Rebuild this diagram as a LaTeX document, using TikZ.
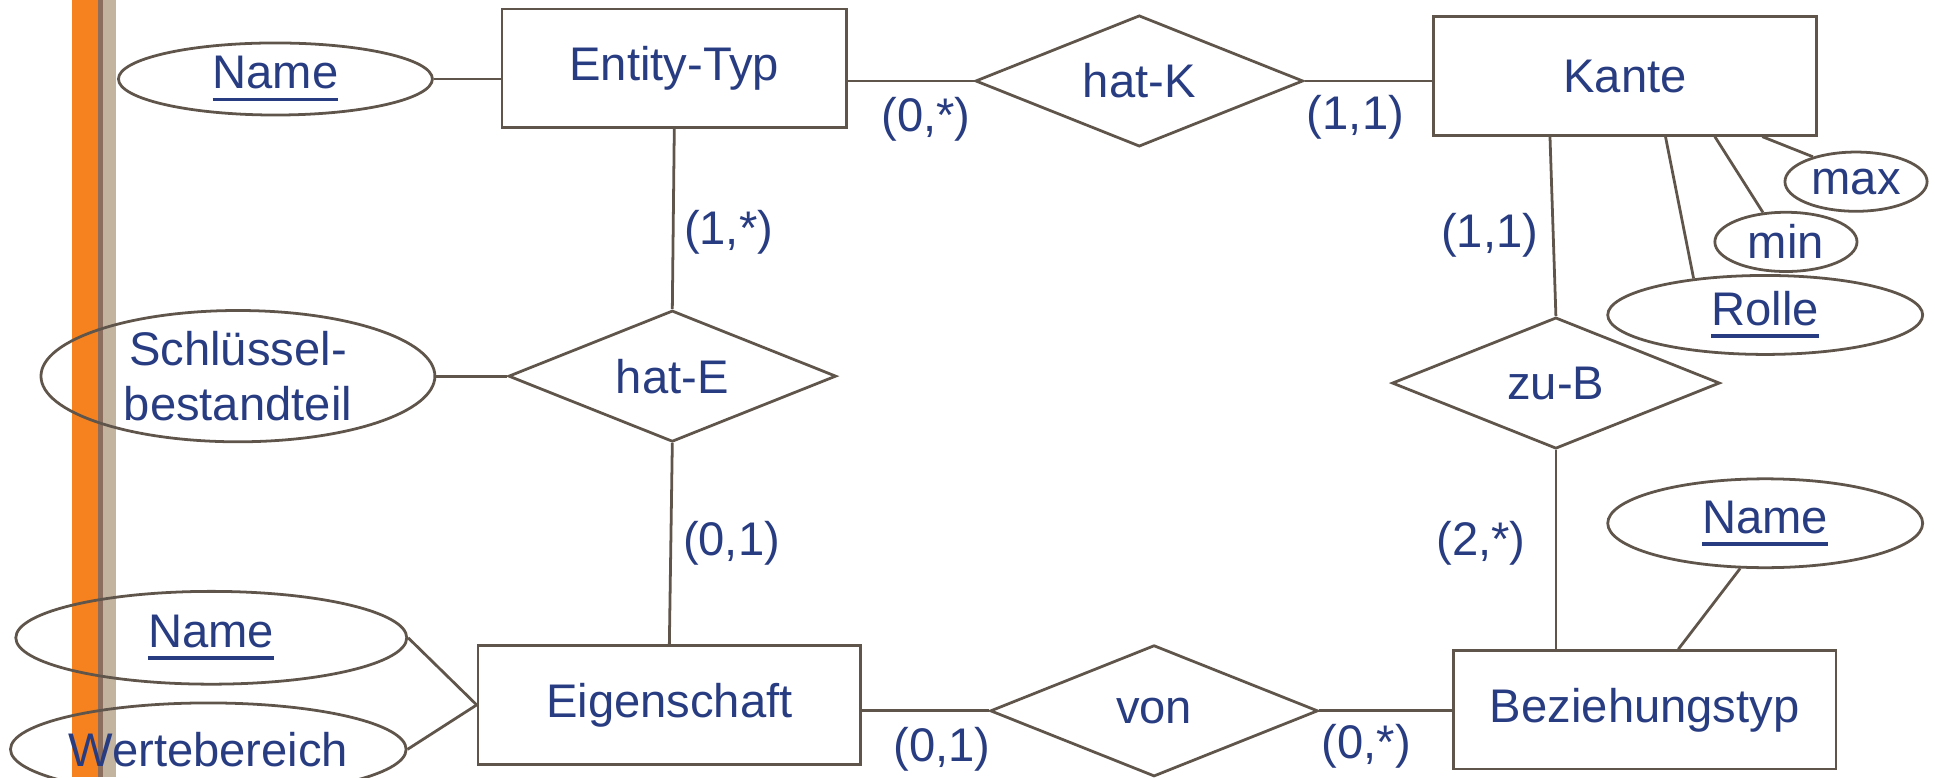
\documentclass[tikz,border=0pt]{standalone}
\usepackage{fontspec}
\setmainfont{Liberation Sans}
\usepackage{tikz}
\usetikzlibrary{shapes.geometric,positioning,calc}
\definecolor{myblue}{RGB}{40,60,130}
\definecolor{myline}{RGB}{95,85,75}
\definecolor{myorange}{RGB}{245,130,31}
\definecolor{mybrown}{RGB}{140,110,95}
\definecolor{mytan}{RGB}{195,180,160}
\newcommand{\ultext}[1]{\setbox0=\hbox{#1}\rlap{\rule[-3.6pt]{\wd0}{1.1pt}}\box0}

\begin{document}
\begin{tikzpicture}[font=\fontsize{13.6}{16}\selectfont, text=myblue, line width=0.8pt,
  entity/.style={draw=myline, rectangle, inner sep=0pt, minimum width=3.875cm, minimum height=1.2cm},
  rel/.style={draw=myline, diamond, aspect=2.5, inner sep=0pt, minimum width=3.32cm, minimum height=1.33cm},
  attr/.style={draw=myline, ellipse, inner sep=0pt},
  link/.style={myline}]
  \useasboundingbox (0,0) rectangle (19.6,-7.875);

  % side bar
  \fill[myorange] (0.725,0) rectangle (0.99,-7.875);
  \fill[mybrown] (0.99,0) rectangle (1.045,-7.875);
  \fill[mytan] (1.045,0) rectangle (1.175,-7.875);

  % entities
  \node[entity, minimum width=3.49cm] (entity) at (6.83,-0.69) {Entity-Typ};
  \node[entity] (kante) at (16.46,-0.77) {Kante};
  \node[entity] (eigen) at (6.78,-7.14) {Eigenschaft};
  \node[entity] (bez) at (16.66,-7.19) {Beziehungstyp};

  % relationships
  \node[rel] (hatk) at (11.54,-0.82) {hat-K};
  \node[rel] (hate) at (6.81,-3.81) {hat-E};
  \node[rel] (zub) at (15.76,-3.88) {zu-B};
  \node[rel] (von) at (11.69,-7.2) {von};

  % attributes
  \node[attr, minimum width=3.18cm, minimum height=0.73cm] (name1) at (2.79,-0.8) {\ultext{Name}};
  \node[attr, minimum width=3.99cm, minimum height=1.33cm, align=center] (schl) at (2.41,-3.81) {Schlüssel-\\bestandteil};
  \node[attr, minimum width=3.96cm, minimum height=0.94cm] (name2) at (2.14,-6.46) {\ultext{Name}};
  \node[attr, minimum width=3.98cm, minimum height=0.94cm] (werte) at (2.11,-7.59) {Wertebereich};
  \node[attr, minimum width=3.19cm, minimum height=0.9cm] (name3) at (17.88,-5.3) {\ultext{Name}};
  \node[attr, minimum width=3.19cm, minimum height=0.8cm] (rolle) at (17.88,-3.19) {\ultext{Rolle}};
  \node[attr, minimum width=1.44cm, minimum height=0.6cm] (min) at (18.09,-2.45) {min};
  \node[attr, minimum width=1.44cm, minimum height=0.6cm] (max) at (18.8,-1.84) {max};

  % connectors
  \draw[link] (name1.east) -- (name1.east -| entity.west);
  \draw[link] (hatk.west -| entity.east) -- (hatk.west);
  \draw[link] (hatk.east) -- (hatk.east -| kante.west);
  \draw[link] (entity.south) -- (hate.north);
  \draw[link] (schl.east) -- (hate.west);
  \draw[link] (hate.south) -- (eigen.north);
  \draw[link] (name2.east) -- (eigen.west);
  \draw[link] (werte.east) -- (eigen.west);
  \draw[link] (von.west -| eigen.east) -- (von.west);
  \draw[link] (von.east) -- (von.east -| bez.west);
  \draw[link] ([xshift=-0.76cm]kante.south) -- (zub.north);
  \draw[link] (zub.south) -- (zub.south |- bez.north);
  \draw[link] ([xshift=0.41cm]kante.south) -- (rolle.153);
  \draw[link] ([xshift=0.91cm]kante.south) -- (min.128);
  \draw[link] ([xshift=1.39cm]kante.south) -- (max.150);
  \draw[link] (name3.241) -- ([xshift=0.34cm]bez.north);

  % cardinalities
  \node (c1) at (9.38,-1.21) {(0,*)};
  \node (c2) at (13.73,-1.19) {(1,1)};
  \node (c3) at (7.38,-2.35) {(1,*)};
  \node (c4) at (7.41,-5.5) {(0,1)};
  \node (c5) at (15.09,-2.38) {(1,1)};
  \node (c6) at (15.0,-5.5) {(2,*)};
  \node (c7) at (9.54,-7.59) {(0,1)};
  \node (c8) at (13.84,-7.56) {(0,*)};
\end{tikzpicture}
\end{document}
